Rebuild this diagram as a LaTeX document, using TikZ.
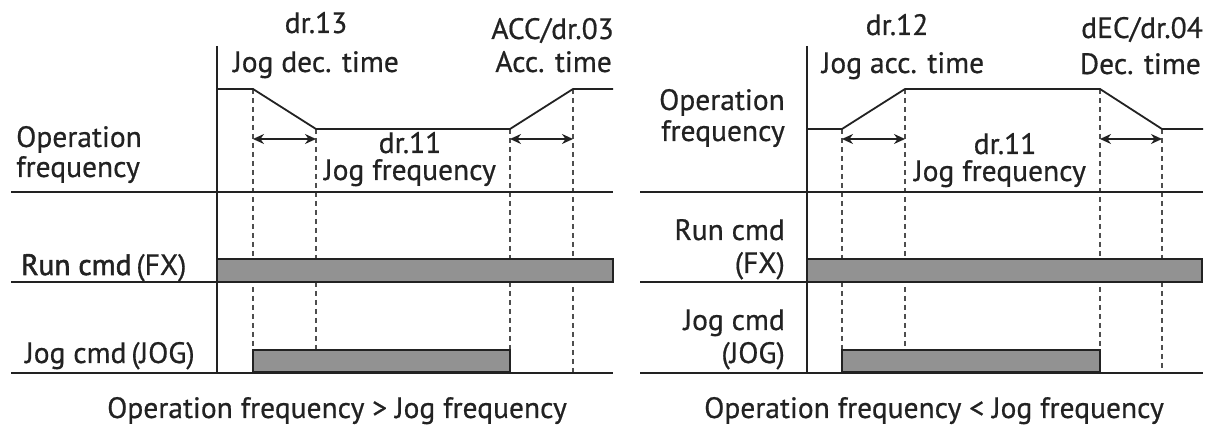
\documentclass[tikz,border=0pt]{standalone}
\usepackage{fontspec}
\setmainfont{PT Sans}[FakeBold=0.6]
\newfontfamily\semib{PT Sans}[FakeBold=1.8]
\usetikzlibrary{arrows.meta}
\definecolor{ink}{HTML}{222222}
\definecolor{barfill}{HTML}{929292}
\begin{document}
\begin{tikzpicture}[x=1pt,y=-1pt,
  txt/.style={anchor=base, inner sep=0pt, font=\fontsize{29.5}{32}\selectfont, text=ink},
  axisline/.style={draw=ink, line width=1.8pt},
  trace/.style={draw=ink, line width=1.8pt, line join=round},
  guide/.style={draw=ink!80, line width=1.3pt, dash pattern=on 5pt off 4pt},
  dim/.style={draw=ink, line width=1.6pt, {Stealth[length=11pt,width=10pt]}-{Stealth[length=11pt,width=10pt]}},
  bar/.style={fill=barfill, draw=ink, line width=1.6pt},
  barbase/.style={draw=ink, line width=3pt}]
\useasboundingbox (0,0) rectangle (1208,427);

% ================= LEFT PANEL =================
% guides
\draw[guide] (253,89) -- (253,373);
\draw[guide] (316,129) -- (316,373);
\draw[guide] (510,129) -- (510,373);
\draw[guide] (573,89) -- (573,373);
% axes
\draw[axisline] (11,192) -- (613,192);
\draw[axisline] (11,282) -- (613,282);
\draw[axisline] (11,373) -- (613,373);
\draw[axisline] (217,46) -- (217,373);
% frequency trace
\draw[trace] (217,89) -- (253,89) -- (316,129) -- (510,129) -- (573,89) -- (613,89);
% dimension arrows
\coordinate (la1) at (253,139); \coordinate (la2) at (316,139);
\coordinate (la3) at (510,139); \coordinate (la4) at (573,139);
\draw[dim] (la1) -- (la2);
\draw[dim] (la3) -- (la4);
% bars
\draw[bar] (217,259) rectangle (613,282);
\draw[bar] (253,350) rectangle (510,373);
\draw[barbase] (253,373) -- (510,373);
% labels
\node[txt] (l1) at (316,33) {dr.13};
\node[txt] (l2) at (316,72) {Jog dec. time};
\node[txt,anchor=base east] (l3) at (614,39) {ACC/dr.03};
\node[txt,anchor=base east] (l4) at (612,72) {Acc. time};
\node[txt,text depth=0pt] (l5) at (410,153) {dr.11};
\node[txt,text height=12pt] (l6) at (410,180) {Jog frequency};
\node[txt,anchor=base west] (l7) at (16,147) {Operation};
\node[txt,anchor=base west] (l8) at (16,177) {frequency};
\node[txt,anchor=base west] (l9) at (21,275) {{\semib Run cmd}\,(FX)};
\node[txt,anchor=base west] (l10) at (25,363) {Jog cmd\,(JOG)};
\node[txt] (l11) at (337,418) {Operation frequency > Jog frequency};

% ================= RIGHT PANEL =================
\draw[guide] (842,129) -- (842,373);
\draw[guide] (905,89) -- (905,373);
\draw[guide] (1100,89) -- (1100,373);
\draw[guide] (1162,129) -- (1162,373);
\draw[axisline] (640,192) -- (1203,192);
\draw[axisline] (640,282) -- (1203,282);
\draw[axisline] (640,373) -- (1203,373);
\draw[axisline] (807,46) -- (807,373);
\draw[trace] (807,129) -- (842,129) -- (905,89) -- (1100,89) -- (1162,129) -- (1203,129);
\coordinate (ra1) at (842,139); \coordinate (ra2) at (905,139);
\coordinate (ra3) at (1100,139); \coordinate (ra4) at (1162,139);
\draw[dim] (ra1) -- (ra2);
\draw[dim] (ra3) -- (ra4);
\draw[bar] (807,259) rectangle (1202,282);
\draw[bar] (842,350) rectangle (1100,373);
\draw[barbase] (842,373) -- (1100,373);
\node[txt] (r1) at (897,35) {dr.12};
\node[txt] (r2) at (903,73) {Jog acc. time};
\node[txt,anchor=base east] (r3) at (1203,38) {dEC/dr.04};
\node[txt,anchor=base east] (r4) at (1201,74) {Dec. time};
\node[txt,text depth=0pt] (r5) at (1005,154) {dr.11};
\node[txt,text height=12pt] (r6) at (1000,181) {Jog frequency};
\node[txt,anchor=base east] (r7) at (785,110) {Operation};
\node[txt,anchor=base east] (r8) at (785,141) {frequency};
\node[txt,anchor=base east] (r9) at (785,240) {Run cmd};
\node[txt,anchor=base east] (r10) at (785,273) {(FX)};
\node[txt,anchor=base east] (r11) at (785,330) {Jog cmd};
\node[txt,anchor=base east] (r12) at (785,363) {(JOG)};
\node[txt] (r13) at (934,418) {Operation frequency < Jog frequency};
\end{tikzpicture}
\end{document}
